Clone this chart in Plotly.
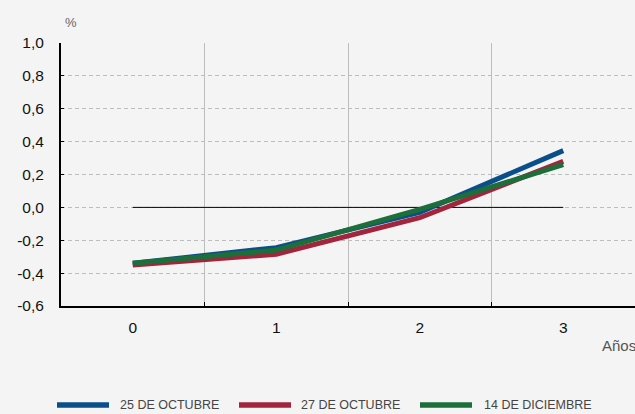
import plotly.graph_objects as go

# plazo en años
anios = [0, 1, 2, 3]
oct_25 = [-0.34, -0.245, -0.03, 0.345]
oct_27 = [-0.35, -0.285, -0.063, 0.28]
dic_14 = [-0.34, -0.26, -0.012, 0.26]

y_ticks = [-0.6, -0.4, -0.2, 0.0, 0.2, 0.4, 0.6, 0.8, 1.0]
y_labels = [f"{v:.1f}".replace(".", ",") for v in y_ticks]

series = [
    ("25 DE OCTUBRE", oct_25, "#0b4f8a"),
    ("27 DE OCTUBRE", oct_27, "#a3243d"),
    ("14 DE DICIEMBRE", dic_14, "#1c6e3b"),
]

W, H = 635, 414
L, R, T, B = 61, 0, 43, 108


def px_x(x):
    return (x - L) / (W - L - R)


def px_y(y):
    return (H - B - y) / (H - T - B)


fig = go.Figure()
for name, vals, color in series:
    fig.add_trace(go.Scatter(x=anios, y=vals, mode="lines", name=name,
                             line=dict(color=color, width=5)))

# linea de cero entre el primer y el ultimo plazo
fig.add_shape(type="line", x0=anios[0], x1=anios[-1], y0=0, y1=0,
              line=dict(color="black", width=1), layer="between")

# leyenda manual
leg = [(57, 109, 118), (239, 291, 299), (420, 472, 482)]
for (x0, x1, xt), (name, _, color) in zip(leg, series):
    fig.add_shape(type="line", xref="paper", yref="paper",
                  x0=px_x(x0), x1=px_x(x1), y0=px_y(405), y1=px_y(405),
                  line=dict(color=color, width=5.5))
    fig.add_annotation(text=name, xref="paper", yref="paper", x=px_x(xt), y=px_y(405),
                       xanchor="left", yanchor="middle", showarrow=False,
                       font=dict(family="Liberation Sans, Arial, sans-serif",
                                 size=12.5, color="#444444"))

fig.add_annotation(text="%", xref="paper", yref="paper", x=px_x(63), y=px_y(22),
                   xanchor="left", yanchor="middle", showarrow=False,
                   font=dict(size=13, color="#666666"))
fig.add_annotation(text="Años", xref="paper", yref="paper", x=px_x(600), y=px_y(345),
                   xanchor="left", yanchor="middle", showarrow=False,
                   font=dict(size=15, color="#555555"))

fig.update_layout(
    width=W, height=H,
    margin=dict(l=L, r=R, t=T, b=B),
    paper_bgcolor="#f4f4f4",
    plot_bgcolor="#f4f4f4",
    showlegend=False,
    font=dict(family="Liberation Sans, Arial, sans-serif", size=15.5, color="#111111"),
    xaxis=dict(
        range=[-0.5, 3.5], tickvals=anios, showgrid=False, zeroline=False,
        showline=True, linecolor="black", linewidth=2,
        ticks="", ticklabelstandoff=6,
        minor=dict(tickmode="array", tickvals=[0.5, 1.5, 2.5], showgrid=True,
                   gridcolor="#bdbdbd", gridwidth=1, ticks="inside", ticklen=4,
                   tickcolor="black"),
    ),
    yaxis=dict(
        range=[-0.6, 1.0], tickvals=y_ticks, ticktext=y_labels, zeroline=False,
        showgrid=True, gridcolor="#bdbdbd", griddash="4px,3px", gridwidth=1,
        showline=True, linecolor="black", linewidth=2,
        ticks="inside", ticklen=3, tickcolor="black", ticklabelstandoff=12,
    ),
)

fig.write_html("out.html", config={"displayModeBar": False},
               post_script="document.body.style.margin = '0';")
